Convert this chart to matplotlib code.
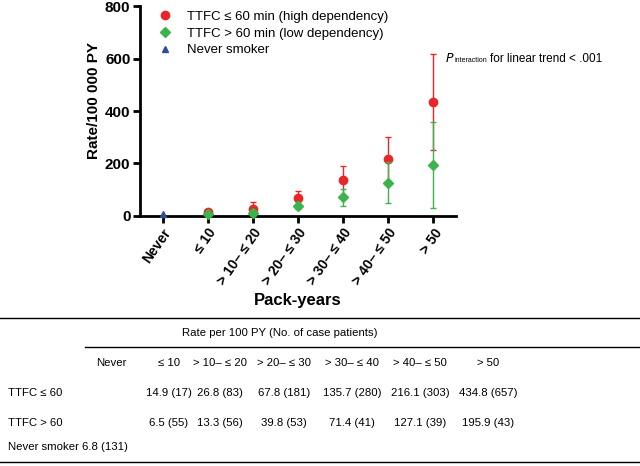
import numpy as np
import matplotlib.pyplot as plt
from matplotlib.lines import Line2D
from matplotlib import font_manager

plt.rcParams['font.family'] = ['Liberation Sans', 'DejaVu Sans']

cats = ['Never', '≤ 10', '> 10– ≤ 20', '> 20– ≤ 30', '> 30– ≤ 40', '> 40– ≤ 50', '> 50']
tab_heads = ['Never', '≤ 10', '> 10– ≤ 20', '> 20– ≤ 30', '> 30– ≤ 40', '> 40– ≤ 50', '> 50']

# rates per 100 000 PY
high_rate = [14.9, 26.8, 67.8, 135.7, 216.1, 434.8]
high_err = [6, 27, 29, 55, 84, 184]
high_n = [17, 83, 181, 280, 303, 657]
low_rate = [6.5, 13.3, 39.8, 71.4, 127.1, 195.9]
low_err = [3, 8, 14, 33, 77, 164]
low_n = [55, 56, 53, 41, 39, 43]
never_rate = 6.8
never_n = 131

red = '#e8262a'
green = '#3cb44b'
blue = '#2f4d9b'

fig = plt.figure(figsize=(6.4, 4.66), dpi=100)
ax = fig.add_axes([0.219, 0.5365, 0.4935, 0.4506])

x = np.arange(1, 7)
ax.errorbar(x, high_rate, yerr=high_err, fmt='o', color=red, ms=6, elinewidth=1,
            capsize=2, capthick=1, clip_on=False, zorder=3)
ax.errorbar(x, low_rate, yerr=low_err, fmt='D', color=green, ms=5, elinewidth=1,
            capsize=2, capthick=1, clip_on=False, zorder=4)
ax.plot([0], [never_rate], '^', color=blue, ms=5, clip_on=False, zorder=5)

ax.set_xlim(-0.5, 6.5)
ax.set_ylim(0, 800)
ax.set_yticks([0, 200, 400, 600, 800])
ax.set_xticks(range(7))
ax.set_xticklabels(cats, rotation=55, ha='right', rotation_mode='anchor',
                   fontsize=10, fontweight='bold')
for lab in ax.get_yticklabels():
    lab.set_fontweight('bold')
    lab.set_fontsize(11)
for s in ['top', 'right']:
    ax.spines[s].set_visible(False)
for s in ['left', 'bottom']:
    ax.spines[s].set_linewidth(2)
ax.tick_params(width=2, length=5, pad=2)
ax.set_ylabel('Rate/100 000 PY', fontsize=11, fontweight='bold')
ax.yaxis.set_label_coords(-0.125, 0.55)
ax.set_xlabel('Pack-years', fontsize=12, fontweight='bold', labelpad=4)

handles = [
    Line2D([], [], ls='none', marker='o', color=red, ms=6),
    Line2D([], [], ls='none', marker='D', color=green, ms=5),
    Line2D([], [], ls='none', marker='^', color=blue, ms=5),
]
labels = ['TTFC ≤ 60 min (high dependency)', 'TTFC > 60 min (low dependency)', 'Never smoker']
ax.legend(handles, labels, loc='upper left', bbox_to_anchor=(0.01, 1.035), frameon=False,
          fontsize=9.5, handletextpad=0.9, labelspacing=0.35, handlelength=1.5)

ax.text(6.26, 600, r'$\it{P}$', fontsize=9, va='center', ha='left')
ax.text(6.46, 592, 'interaction', fontsize=5, va='center', ha='left')
ax.text(7.25, 600, 'for linear trend < .001', fontsize=8.5, va='center', ha='left')

# table below
W, H = 640.0, 466.0
def fx(px):
    return px / W
def fy(py):
    return 1 - py / H

fig.add_artist(Line2D([0, 1], [fy(318), fy(318)], color='black', lw=1))
fig.add_artist(Line2D([fx(85), 1], [fy(347), fy(347)], color='black', lw=1))
fig.add_artist(Line2D([0, 1], [fy(462), fy(462)], color='black', lw=1))

names = {f.name for f in font_manager.fontManager.ttflist}
if 'Liberation Sans Narrow' in names:
    fam = ['Liberation Sans Narrow', 'DejaVu Sans']
    tfs = 9.5
else:
    fam = ['Liberation Sans', 'DejaVu Sans']
    tfs = 8.2

fig.text(fx(280), fy(333), 'Rate per 100 PY (No. of case patients)', fontsize=tfs,
         ha='center', va='center', family=fam)

col_x = [111, 169, 220, 284, 352, 420, 488]
for cx, h in zip(col_x, tab_heads):
    fig.text(fx(cx), fy(363), h, fontsize=tfs, ha='center', va='center', family=fam)

rows_y = [393, 423, 447]
fig.text(fx(8), fy(rows_y[0]), 'TTFC ≤ 60', fontsize=tfs, ha='left', va='center', family=fam)
fig.text(fx(8), fy(rows_y[1]), 'TTFC > 60', fontsize=tfs, ha='left', va='center', family=fam)
fig.text(fx(8), fy(rows_y[2]), 'Never smoker', fontsize=tfs, ha='left', va='center', family=fam)
for i in range(6):
    fig.text(fx(col_x[i + 1]), fy(rows_y[0]), f'{high_rate[i]} ({high_n[i]})', fontsize=tfs,
             ha='center', va='center', family=fam)
    fig.text(fx(col_x[i + 1]), fy(rows_y[1]), f'{low_rate[i]} ({low_n[i]})', fontsize=tfs,
             ha='center', va='center', family=fam)
fig.text(fx(105), fy(rows_y[2]), f'{never_rate} ({never_n})', fontsize=tfs,
         ha='center', va='center', family=fam)

fig.savefig('out.png', dpi=100)
